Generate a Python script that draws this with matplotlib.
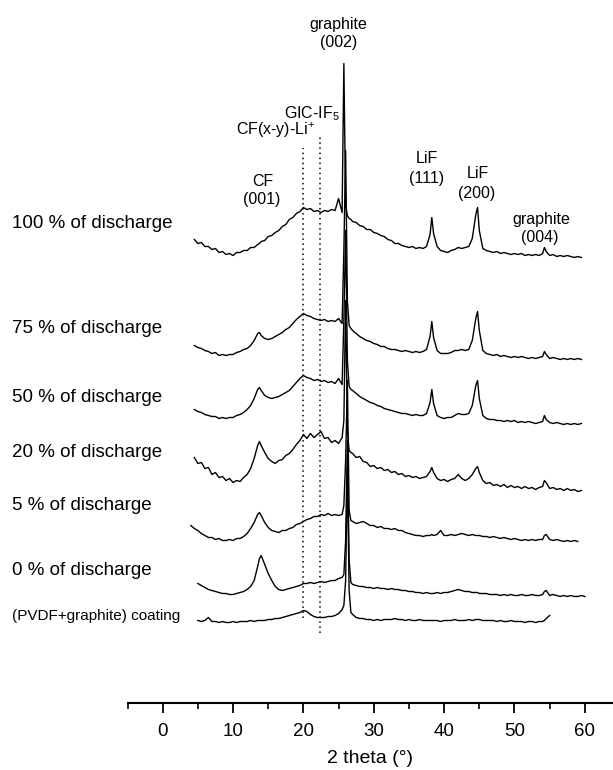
import numpy as np
import matplotlib
matplotlib.use("Agg")
import matplotlib.pyplot as plt

nan = np.nan

# 2 theta sampling (degrees), denser around the sharp reflections
two_theta = [
    4.0, 4.5, 5.0, 5.5, 6.0, 6.5, 7.0, 7.5, 8.0, 8.5, 9.0, 9.5, 10.0, 10.5, 11.0, 11.5, 12.0, 12.5, 13.0, 13.5,
    13.75,
    14.0, 14.5, 15.0, 15.5, 16.0, 16.5, 17.0, 17.5, 18.0, 18.5, 19.0, 19.5, 20.0, 20.5, 21.0, 21.5, 22.0, 22.5,
    23.0, 23.5, 24.0, 24.5, 25.0, 25.5,
    25.75, 26.0, 26.25, 26.5, 26.75,
    27.0, 27.5, 28.0, 28.5, 29.0, 29.5, 30.0, 30.5, 31.0, 31.5, 32.0, 32.5, 33.0, 33.5, 34.0, 34.5, 35.0, 35.5,
    36.0, 36.5, 37.0, 37.5, 38.0,
    38.25,
    38.5, 39.0, 39.5, 40.0, 40.5, 41.0, 41.5, 42.0, 42.5, 43.0, 43.5, 44.0, 44.5,
    44.75,
    45.0, 45.5, 46.0, 46.5, 47.0, 47.5, 48.0, 48.5, 49.0, 49.5, 50.0, 50.5, 51.0, 51.5, 52.0, 52.5, 53.0, 53.5, 54.0,
    54.25,
    54.5, 55.0, 55.5, 56.0, 56.5, 57.0, 57.5, 58.0, 58.5, 59.0, 59.5, 60.0,
]

# intensities (a.u.) of each pattern
dis_100 = [
    nan, 18, 14, 15, 11, 11, 8, 9, 5, 6, 3, 4, 2, 5, 5, 7, 7, 10, 10, 13,
    14,
    16, 17, 21, 22, 25, 27, 31, 33, 38, 40, 44, 46, 50, 48, 49, 46, 47, 45, 47, 46, 48, 47, 59, 45,
    194, 52, 42, 39, 38,
    36, 35, 32, 31, 28, 28, 25, 24, 22, 21, 18, 17, 14, 14, 12, 11, 10, 11, 9, 10, 9, 11, 23,
    40,
    24, 11, 7, 6, 5, 7, 8, 10, 9, 10, 11, 19, 43,
    50,
    27, 9, 7, 6, 5, 6, 4, 5, 4, 3, 4, 3, 4, 2, 3, 2, 3, 2, 4,
    10,
    6, 2, 3, 1, 2, 1, 2, 1, 0, 1, 0, nan,
]
dis_75 = [
    nan, 14, 12, 11, 9, 8, 6, 7, 4, 5, 4, 5, 5, 7, 8, 10, 11, 14, 19, 26,
    27,
    24, 21, 20, 21, 23, 25, 27, 30, 32, 36, 40, 43, 46, 44, 43, 41, 40, 39, 40, 38, 39, 38, 41, 36,
    109, 209, 59, 34, 31,
    29, 26, 23, 21, 19, 18, 16, 15, 13, 13, 11, 10, 10, 9, 8, 9, 8, 7, 8, 7, 8, 10, 23,
    38,
    22, 9, 6, 6, 6, 7, 9, 9, 10, 9, 10, 19, 41,
    48,
    29, 9, 6, 5, 4, 5, 3, 4, 3, 2, 3, 2, 3, 2, 1, 2, 1, 2, 3,
    8,
    5, 1, 2, 1, 0, 1, 0, 1, 0, 1, 0, nan,
]
dis_50 = [
    nan, 15, 13, 12, 10, 9, 8, 8, 6, 7, 6, 7, 7, 9, 10, 12, 15, 19, 26, 35,
    37,
    34, 29, 27, 26, 27, 28, 30, 32, 34, 38, 42, 46, 49, 47, 46, 44, 45, 43, 44, 42, 43, 41, 46, 40,
    104, 194, 64, 38, 35,
    34, 31, 28, 26, 24, 22, 21, 19, 18, 16, 15, 14, 13, 12, 11, 11, 10, 9, 10, 9, 9, 11, 22,
    35,
    21, 9, 7, 6, 7, 7, 9, 11, 10, 10, 11, 19, 39,
    44,
    26, 9, 6, 5, 5, 4, 4, 3, 4, 3, 4, 2, 3, 2, 3, 2, 1, 2, 3,
    9,
    5, 2, 1, 2, 1, 0, 1, 0, 1, 0, 1, nan,
]
dis_20 = [
    nan, 33, 27, 28, 22, 23, 16, 18, 13, 14, 10, 12, 8, 10, 9, 13, 16, 22, 32, 45,
    49,
    45, 38, 32, 29, 27, 30, 31, 35, 37, 41, 46, 50, 56, 52, 57, 53, 56, 59, 52, 53, 48, 50, 47, 53,
    70, 190, 60, 40, 38,
    37, 33, 34, 29, 28, 24, 25, 22, 23, 20, 21, 18, 19, 16, 17, 14, 15, 13, 14, 12, 13, 14, 19,
    23,
    18, 12, 10, 11, 9, 11, 12, 16, 12, 10, 12, 16, 22,
    24,
    18, 10, 7, 8, 5, 6, 4, 6, 3, 5, 3, 4, 2, 4, 2, 3, 1, 3, 4,
    10,
    8, 2, 3, 1, 2, 0, 2, 0, 1, -1, 0, nan,
]
dis_5 = [
    16, 13, 11, 8, 6, 4, 4, 2, 3, 1, 1, 2, 1, 3, 3, 5, 8, 13, 19, 27,
    29,
    26, 19, 14, 11, 10, 9, 11, 11, 13, 14, 17, 18, 20, 22, 23, 25, 25, 27, 26, 28, 26, 27, 26, 27,
    36, 81, 161, 31, 21,
    20, 18, 19, 20, 18, 16, 16, 14, 15, 13, 13, 12, 13, 11, 11, 9, 8, 7, 6, 6, 5, 6, 6,
    7,
    6, 7, 11, 6, 6, 7, 6, 7, 8, 7, 6, 7, 6,
    6,
    6, 5, 5, 4, 5, 4, 3, 4, 3, 2, 3, 2, 1, 2, 1, 2, 1, 2, 2,
    6,
    7, 2, 1, 2, 1, 0, 1, 0, 1, 0, nan, nan,
]
dis_0 = [
    nan, nan, 13, 11, 9, 7, 6, 5, 4, 3, 3, 2, 2, 3, 4, 5, 7, 10, 16, 30,
    38,
    41, 32, 23, 16, 10, 7, 6, 7, 8, 9, 10, 11, 13, 13, 14, 13, 14, 15, 14, 15, 16, 16, 18, 19,
    22, 56, 156, 36, 14,
    12, 11, 10, 10, 9, 9, 8, 9, 8, 8, 7, 8, 7, 7, 6, 6, 5, 5, 4, 4, 3, 4, 3,
    3,
    3, 4, 3, 4, 4, 5, 6, 7, 6, 5, 5, 4, 4,
    4,
    3, 3, 3, 2, 2, 2, 1, 2, 1, 2, 1, 1, 2, 1, 1, 2, 1, 1, 2,
    5,
    6, 1, 2, 1, 0, 1, 0, 1, 0, 0, 1, 0,
]
coating = [
    nan, nan, 2, 1, 2, 5, 1, 1, 0, 1, 0, 0, 1, 0, 1, 1, 1, 2, 1, 2,
    2,
    2, 2, 3, 3, 4, 4, 5, 6, 7, 8, 9, 10, 12, 11, 8, 6, 5, 5, 5, 6, 6, 7, 9, 13,
    17, 42, 152, 32, 10,
    8, 5, 4, 4, 3, 3, 2, 3, 2, 3, 3, 3, 4, 3, 3, 2, 3, 2, 2, 3, 2, 2, 2,
    2,
    2, 2, 1, 2, 2, 2, 3, 2, 2, 2, 3, 2, 3,
    3,
    3, 2, 2, 2, 2, 1, 2, 1, 1, 2, 1, 1, 1, 0, 1, 1, 0, 1, 1,
    2,
    4, 7, nan, nan, nan, nan, nan, nan, nan, nan, nan, nan,
]

patterns = [dis_100, dis_75, dis_50, dis_20, dis_5, dis_0, coating]
pattern_names = ["100 % of discharge", "75 % of discharge", "50 % of discharge",
                 "20 % of discharge", "5 % of discharge", "0 % of discharge",
                 "(PVDF+graphite) coating"]
offsets = [445, 343, 278, 212, 161, 106, 80]      # vertical stacking
name_y = [228, 333, 402, 457, 510, 575, 620]       # label baselines (px from top)

# dotted reference lines: CF(x-y)-Li+ and GIC-IF5
ref_lines = [19.9, 22.3]
ref_tops = [555, 567]
ref_bottoms = [85, 70]

plt.rcParams['font.family'] = ['Liberation Sans', 'DejaVu Sans']
plt.rcParams['mathtext.fontset'] = 'custom'
plt.rcParams['mathtext.rm'] = 'Liberation Sans'

W, H = 613, 770
fig = plt.figure(figsize=(W / 100, H / 100), dpi=100)
ax = fig.add_axes([127.5 / W, (H - 702.5) / H, 1 - 127.5 / W, 702.5 / H])

x = np.array(two_theta)
for vals, off in zip(patterns, offsets):
    y = np.array(vals, dtype=float) + off
    ax.plot(x, y, color="black", lw=1.0)

for xr, top, bot in zip(ref_lines, ref_tops, ref_bottoms):
    ax.plot([xr, xr], [bot, top], color="black", lw=1.1, linestyle=(0, (1.0, 2.3)))

# peak labels
lab = dict(ha="center", va="baseline", fontsize=11.5)
ax.text(24.93, 702.5 - 29, "graphite", **lab)
ax.text(25.06, 702.5 - 47, "(002)", **lab)
ax.text(21.2, 702.5 - 118, r"GIC-IF$_\mathregular{5}$", **lab)
ax.text(16.1, 702.5 - 135, r"CF(x-y)-Li$^\mathregular{+}$", **lab)
ax.text(14.26, 702.5 - 186, "CF", **lab)
ax.text(14.1, 702.5 - 204, "(001)", **lab)
ax.text(37.57, 702.5 - 163, "LiF", **lab)
ax.text(37.57, 702.5 - 183, "(111)", **lab)
ax.text(44.83, 702.5 - 178, "LiF", **lab)
ax.text(44.55, 702.5 - 198, "(200)", **lab)
ax.text(53.77, 702.5 - 224, "graphite", **lab)
ax.text(53.63, 702.5 - 242, "(004)", **lab)

for name, py in zip(pattern_names, name_y):
    size = 11 if "coating" in name else 13.5
    fig.text(12 / W, (H - py) / H, name, fontsize=size, va="baseline", ha="left")

ax.set_xlim(-5, 64)
ax.set_ylim(0, 702.5)
for s in ["left", "right", "top"]:
    ax.spines[s].set_visible(False)
ax.spines["bottom"].set_linewidth(1.5)
ax.set_yticks([])
ax.set_xticks([0, 10, 20, 30, 40, 50, 60])
ax.set_xticks(np.arange(-5, 65, 10), minor=True)
ax.tick_params(axis="x", which="major", direction="out", length=7, width=1.3,
               labelsize=13.5, pad=8)
ax.tick_params(axis="x", which="minor", direction="out", length=4, width=1.2)
ax.set_xlabel("2 theta (°)", fontsize=14, labelpad=7)
ax.patch.set_alpha(0)

fig.savefig("out.png", dpi=100)
